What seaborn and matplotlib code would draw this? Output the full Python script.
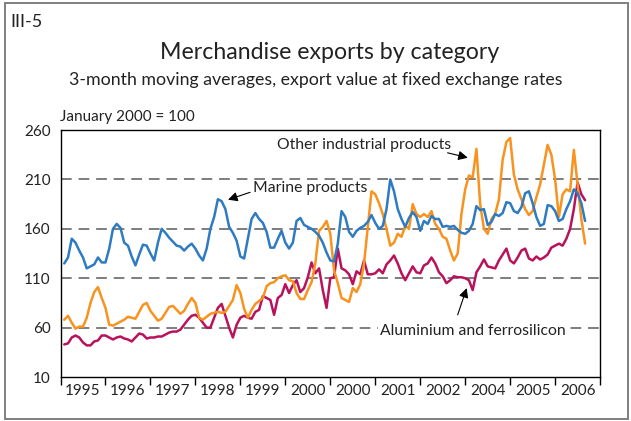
import numpy as np
import pandas as pd
import seaborn as sns
import matplotlib.pyplot as plt
from matplotlib.patches import Rectangle

# monthly points, Feb 1995 .. Sep 2006 (index 1..140, 0 = Jan 1995)
marine = [125, 131, 150, 146, 138, 131, 120, 122, 124, 131, 126, 126,
          140, 160, 165, 161, 146, 143, 132, 123, 134, 144, 143, 135,
          128, 146, 160, 156, 151, 147, 143, 142, 138, 142, 145, 140,
          133, 128, 140, 160, 172, 190, 188, 180, 162, 156, 148, 132,
          130, 150, 170, 176, 170, 166, 157, 141, 141, 150, 158, 146,
          140, 146, 168, 171, 164, 162, 160, 157, 153, 146, 136, 128,
          127, 145, 178, 172, 157, 152, 158, 161, 163, 167, 174, 166,
          160, 163, 180, 210, 198, 180, 170, 162, 171, 177, 172, 158,
          168, 165, 173, 170, 170, 162, 163, 162, 163, 159, 156, 155,
          158, 165, 183, 179, 180, 164, 167, 175, 173, 176, 187, 186,
          178, 176, 182, 196, 198, 186, 172, 163, 165, 184, 183, 178,
          168, 170, 180, 188, 200, 196, 186, 168]
other_ind = [68, 72, 65, 59, 61, 61, 70, 85, 96, 101, 90, 80,
             63, 62, 64, 66, 68, 71, 70, 69, 76, 83, 85, 77,
             72, 67, 69, 75, 81, 82, 78, 74, 77, 84, 90, 85,
             70, 68, 71, 74, 75, 76, 75, 76, 82, 88, 103, 95,
             79, 70, 78, 84, 87, 90, 102, 105, 106, 110, 112, 113,
             108, 107, 95, 89, 89, 98, 106, 125, 158, 162, 168, 155,
             118, 105, 90, 88, 86, 100, 96, 104, 125, 162, 198, 195,
             186, 175, 160, 143, 146, 155, 152, 163, 160, 185, 175, 172,
             175, 172, 178, 165, 160, 152, 150, 138, 128, 135, 175, 200,
             214, 212, 241, 185, 160, 155, 170, 175, 190, 230, 248, 252,
             215, 200, 190, 180, 174, 178, 192, 205, 225, 245, 235, 210,
             172, 195, 200, 198, 240, 205, 170, 145]
alu_fesi = [43, 44, 50, 52, 50, 45, 42, 42, 46, 47, 52, 52,
            50, 48, 50, 51, 49, 48, 46, 50, 54, 53, 49, 50,
            50, 51, 51, 53, 55, 56, 56, 58, 63, 68, 72, 73,
            70, 65, 60, 60, 70, 80, 84, 72, 60, 50, 63, 70,
            72, 70, 69, 76, 78, 92, 90, 88, 73, 90, 93, 104,
            95, 103, 108, 96, 100, 111, 126, 115, 120, 98, 80, 110,
            111, 140, 120, 118, 114, 104, 117, 114, 128, 114, 114, 115,
            119, 115, 124, 128, 133, 125, 115, 108, 115, 122, 116, 115,
            123, 125, 131, 125, 116, 112, 105, 108, 112, 111, 111, 110,
            108, 98, 116, 122, 129, 122, 121, 120, 128, 134, 140, 128,
            125, 131, 138, 140, 130, 128, 132, 129, 131, 134, 141, 143,
            145, 143, 150, 160, 180, 207, 195, 189]

year_labels = ["1995", "1996", "1997", "1998", "1999", "2000",
               "2000", "2001", "2002", "2004", "2005", "2006"]
y_ticks = [10, 60, 110, 160, 210, 260]

series = {"Marine products": marine,
          "Other industrial products": other_ind,
          "Aluminium and ferrosilicon": alu_fesi}
colors = {"Marine products": "#2f7bc2",
          "Other industrial products": "#f7931e",
          "Aluminium and ferrosilicon": "#b8125a"}

months = np.arange(1, len(marine) + 1)
df = pd.concat([pd.DataFrame({"month": months, "value": v, "series": k})
                for k, v in series.items()])

sns.set_theme(style="white")
plt.rcParams['font.family'] = ['Lato', 'DejaVu Sans']

fig = plt.figure(figsize=(6.31, 4.21), dpi=100)
ax = fig.add_axes([0.0959, 0.1045, 0.8551, 0.5865])

for y in y_ticks[1:-1]:
    ax.axhline(y, color="#5a5a5a", lw=1.1, dashes=(7, 4.5), zorder=0)

sns.lineplot(data=df, x="month", y="value", hue="series", palette=colors,
             hue_order=["Aluminium and ferrosilicon", "Other industrial products", "Marine products"],
             lw=1.8, legend=False, ax=ax)

ax.set_xlim(0, 144)
ax.set_ylim(10, 260)
ax.set_yticks(y_ticks)
ax.set_xticks(np.arange(0, 145, 12))
ax.set_xticklabels([])
ax.set_xticks(np.arange(6, 144, 12), minor=True)
ax.set_xticklabels(year_labels, minor=True)
ax.tick_params(axis="x", which="major", direction="out", length=6, width=1, color="black", bottom=True)
ax.tick_params(axis="x", which="minor", length=0, pad=5, labelsize=11, labelcolor="#222222")
ax.tick_params(axis="y", length=0, pad=7, labelsize=11, labelcolor="#222222")
ax.set_xlabel("")
ax.set_ylabel("")
for s in ax.spines.values():
    s.set_color("black")
    s.set_linewidth(1.0)

arrow = dict(arrowstyle="-|>", color="black", lw=0.8, mutation_scale=14, shrinkA=0, shrinkB=0)
ax.text(81, 245, "Other industrial products", ha="center", va="center", fontsize=11.3, color="#222222")
ax.annotate("", xy=(108.7, 232), xytext=(103.3, 237), arrowprops=arrow)
ax.text(51.5, 201, "Marine products", ha="left", va="center", fontsize=11.3, color="#222222")
ax.annotate("", xy=(44.7, 189.5), xytext=(50.6, 197), arrowprops=arrow)
ax.text(85.2, 56.5, "Aluminium and ferrosilicon", ha="left", va="center", fontsize=11.3,
        color="#222222", bbox=dict(fc="white", ec="none", pad=1.5))
ax.annotate("", xy=(108.4, 100), xytext=(106, 73), arrowprops=arrow)

fig.text(0.016, 0.948, "III-5", fontsize=13, color="#222222", va="center")
fig.text(0.523, 0.876, "Merchandise exports by category", fontsize=16.7, ha="center", va="center", color="#222222")
fig.text(0.5, 0.81, "3-month moving averages, export value at fixed exchange rates", fontsize=12.8,
         ha="center", va="center", color="#222222")
fig.text(0.095, 0.722, "January 2000 = 100", fontsize=11, va="center", color="#222222")

fig.patches.append(Rectangle((0.008, 0.005), 0.987, 0.987, transform=fig.transFigure,
                             fill=False, ec="#7f7f7f", lw=1.4))

fig.savefig("out.png", dpi=100)
